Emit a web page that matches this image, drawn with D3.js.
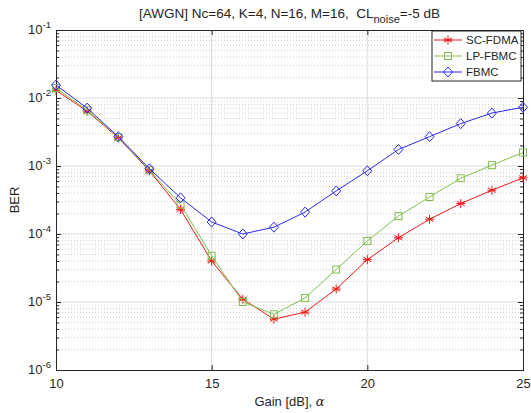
<!DOCTYPE html>
<meta charset="utf-8">
<style>
  body { margin: 0; background: #fff; }
  text { font-family: "Liberation Sans", Arial, sans-serif; fill: #262626; }
  .grid-major line { stroke: #dcdcdc; stroke-width: 1; }
  .grid-minor line { stroke: #cfcfcf; stroke-width: 1; stroke-dasharray: 1,2; }
</style>
<svg width="531" height="413"></svg>
<script src="https://d3js.org/d3.v7.min.js"></script>
<script>
var gains = [10, 11, 12, 13, 14, 15, 16, 17, 18, 19, 20, 21, 22, 23, 24, 25];
var scFdma = [1.3e-2, 6.4e-3, 2.6e-3, 8.5e-4, 2.3e-4, 4.0e-5, 1.1e-5, 5.6e-6, 7.1e-6, 1.55e-5, 4.2e-5, 8.8e-5, 1.65e-4, 2.8e-4, 4.4e-4, 6.7e-4];
var lpFbmc = [1.4e-2, 6.6e-3, 2.65e-3, 8.7e-4, 2.7e-4, 4.8e-5, 1.0e-5, 6.6e-6, 1.15e-5, 3.0e-5, 7.9e-5, 1.83e-4, 3.5e-4, 6.6e-4, 1.03e-3, 1.58e-3];
var fbmc   = [1.55e-2, 7.1e-3, 2.7e-3, 9.1e-4, 3.4e-4, 1.5e-4, 1.0e-4, 1.26e-4, 2.1e-4, 4.3e-4, 8.5e-4, 1.75e-3, 2.7e-3, 4.2e-3, 6.0e-3, 7.3e-3];
var xTicks = [10, 15, 20, 25];
var yTicks = [1e-6, 1e-5, 1e-4, 1e-3, 1e-2, 1e-1];

var series = [
  {name: "SC-FDMA", values: scFdma, color: "#f01818", marker: "star"},
  {name: "LP-FBMC", values: lpFbmc, color: "#7fbf4a", marker: "square"},
  {name: "FBMC",    values: fbmc,   color: "#2a2af0", marker: "diamond"}
];

var svg = d3.select("svg");
var pL = 56, pR = 523, pT = 30, pB = 370;

var x = d3.scaleLinear().domain([10, 25]).range([pL, pR]);
var y = d3.scaleLog().domain([1e-6, 1e-1]).range([pB, pT]);

// minor values 2..9 per decade
var minor = [];
for (var e = -6; e < -1; e++) {
  for (var m = 2; m <= 9; m++) minor.push(m * Math.pow(10, e));
}

// grid
svg.append("g").attr("class", "grid-minor")
  .selectAll("line").data(minor).enter().append("line")
  .attr("x1", pL).attr("x2", pR)
  .attr("y1", d => y(d)).attr("y2", d => y(d));
svg.append("g").attr("class", "grid-major")
  .selectAll("line").data(yTicks.slice(1, -1)).enter().append("line")
  .attr("x1", pL).attr("x2", pR)
  .attr("y1", d => y(d)).attr("y2", d => y(d));
svg.append("g").attr("class", "grid-major")
  .selectAll("line").data(xTicks.slice(1, -1)).enter().append("line")
  .attr("y1", pT).attr("y2", pB)
  .attr("x1", d => x(d)).attr("x2", d => x(d));

// axes box with inward ticks
var axisColor = "#262626";
var xAxis = svg.append("g").attr("transform", "translate(0," + pB + ")")
  .call(d3.axisBottom(x).tickValues(xTicks).tickSize(-5).tickPadding(9).tickFormat(d3.format("d")));
svg.append("g").attr("transform", "translate(0," + pT + ")")
  .call(d3.axisTop(x).tickValues(xTicks).tickSize(-5).tickFormat(""));
svg.append("g").attr("transform", "translate(" + pL + ",0)")
  .call(d3.axisLeft(y).tickValues(yTicks).tickSize(-5).tickFormat(""));
svg.append("g").attr("transform", "translate(" + pL + ",0)")
  .call(d3.axisLeft(y).tickValues(minor).tickSize(-3).tickFormat(""));
svg.append("g").attr("transform", "translate(" + pR + ",0)")
  .call(d3.axisRight(y).tickValues(yTicks).tickSize(-5).tickFormat(""));
svg.append("g").attr("transform", "translate(" + pR + ",0)")
  .call(d3.axisRight(y).tickValues(minor).tickSize(-3).tickFormat(""));
svg.selectAll(".domain").attr("stroke", axisColor).attr("stroke-width", 1);
svg.selectAll(".tick line").attr("stroke", axisColor);
xAxis.selectAll("text").style("font-size", "13px").attr("fill", axisColor)
  .style("font-family", "'Liberation Sans', Arial, sans-serif");

// y tick labels with superscript exponents
yTicks.forEach(function(t) {
  var lbl = svg.append("text")
    .attr("x", pL - 5).attr("y", y(t) + 4)
    .attr("text-anchor", "end").style("font-size", "13px");
  lbl.append("tspan").text("10");
  lbl.append("tspan").attr("dy", -6).style("font-size", "9.5px").text(String(Math.round(Math.log10(t))));
});

// lines and markers
function drawMarker(g, type, color, cx, cy) {
  if (type === "star") {
    var r = 4.5;
    [0, 60, 120].forEach(function(a) {
      var rad = a * Math.PI / 180;
      g.append("line")
        .attr("x1", cx - r * Math.sin(rad)).attr("y1", cy - r * Math.cos(rad))
        .attr("x2", cx + r * Math.sin(rad)).attr("y2", cy + r * Math.cos(rad))
        .attr("stroke", color).attr("stroke-width", 1);
    });
    g.append("line").attr("x1", cx - r).attr("x2", cx + r).attr("y1", cy).attr("y2", cy)
      .attr("stroke", color).attr("stroke-width", 1);
  } else if (type === "square") {
    g.append("rect").attr("x", cx - 3.5).attr("y", cy - 3.5).attr("width", 7).attr("height", 7)
      .attr("fill", "none").attr("stroke", color).attr("stroke-width", 1);
  } else {
    g.append("path")
      .attr("d", "M" + cx + "," + (cy - 5) + "L" + (cx + 4.5) + "," + cy + "L" + cx + "," + (cy + 5) + "L" + (cx - 4.5) + "," + cy + "Z")
      .attr("fill", "none").attr("stroke", color).attr("stroke-width", 1);
  }
}

var line = d3.line().x(d => x(d[0])).y(d => y(d[1]));
var plot = svg.append("g");
series.forEach(function(s) {
  var pts = gains.map((g, i) => [g, s.values[i]]);
  plot.append("path").datum(pts).attr("d", line)
    .attr("fill", "none").attr("stroke", s.color).attr("stroke-width", 1);
  var mg = plot.append("g");
  pts.forEach(p => drawMarker(mg, s.marker, s.color, x(p[0]), y(p[1])));
});

// title
var title = svg.append("text").attr("x", (pL + pR) / 2).attr("y", 18)
  .attr("text-anchor", "middle").style("font-size", "13.5px").style("white-space", "pre");
title.append("tspan").text("[AWGN] Nc=64, K=4, N=16, M=16,  CL");
title.append("tspan").attr("dy", 5).style("font-size", "11px").text("noise");
title.append("tspan").attr("dy", -5).text("=-5 dB");

// axis labels
var xl = svg.append("text").attr("x", (pL + pR) / 2).attr("y", 406)
  .attr("text-anchor", "middle").style("font-size", "13px").style("white-space", "pre");
xl.append("tspan").text("Gain [dB], ");
xl.append("tspan").style("font-family", "'DejaVu Serif', serif").style("font-style", "italic").text("α");
svg.append("text").attr("transform", "translate(19," + ((pT + pB) / 2) + ") rotate(-90)")
  .attr("text-anchor", "middle").style("font-size", "13px").text("BER");

// legend
var lg = svg.append("g");
lg.append("rect").attr("x", 432).attr("y", 31).attr("width", 89).attr("height", 50)
  .attr("fill", "#fff").attr("stroke", axisColor).attr("stroke-width", 1);
series.forEach(function(s, i) {
  var ly = 40 + i * 16;
  lg.append("line").attr("x1", 434).attr("x2", 462).attr("y1", ly).attr("y2", ly)
    .attr("stroke", s.color).attr("stroke-width", 1);
  drawMarker(lg, s.marker, s.color, 448, ly);
  lg.append("text").attr("x", 466).attr("y", ly + 4).style("font-size", "11.5px").text(s.name);
});
</script>
